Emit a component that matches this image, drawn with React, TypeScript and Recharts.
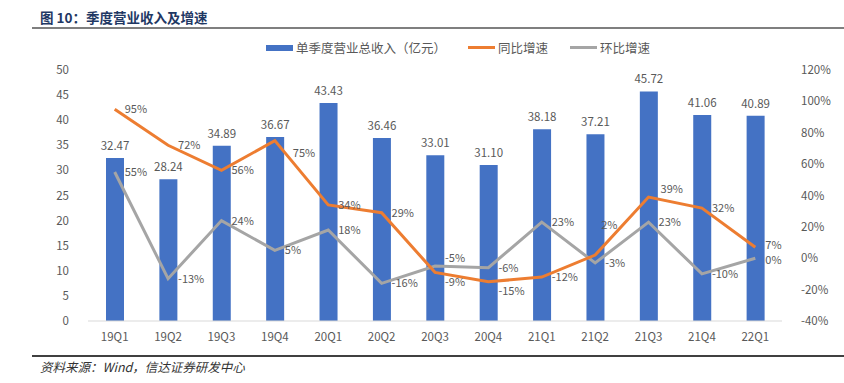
import React from 'react';
import {
  ComposedChart,
  Bar,
  Line,
  XAxis,
  YAxis,
  LabelList
} from 'recharts';

const quarters = ['19Q1', '19Q2', '19Q3', '19Q4', '20Q1', '20Q2', '20Q3', '20Q4', '21Q1', '21Q2', '21Q3', '21Q4', '22Q1'];
const revenue = [32.47, 28.24, 34.89, 36.67, 43.43, 36.46, 33.01, 31.10, 38.18, 37.21, 45.72, 41.06, 40.89];
const yoy = [95, 72, 56, 75, 34, 29, -9, -15, -12, 2, 39, 32, 7];
const qoq = [55, -13, 24, 5, 18, -16, -5, -6, 23, -3, 23, -10, 0];

const leftTicks = [0, 5, 10, 15, 20, 25, 30, 35, 40, 45, 50];
const rightTicks = [-40, -20, 0, 20, 40, 60, 80, 100, 120];

const data = quarters.map((q, i) => ({
  q,
  revenue: revenue[i],
  yoy: yoy[i],
  qoq: qoq[i]
}));

// small label nudges where Excel moved labels to avoid overlap
const yoyNudge: Record<number, [number, number]> = { 3: [8, 12], 6: [0, 10], 7: [0, 9], 9: [-4, -30], 10: [2, -8], 12: [0, -2] };
const qoqNudge: Record<number, [number, number]> = { 6: [0, -8], 12: [0, 2] };

const FONT = '"Noto Sans CJK SC", "Noto Sans", sans-serif';
const TXT = '#595959';

const makeLabel = (nudge: Record<number, [number, number]>) => (props: any) => {
  const { x, y, value, index } = props;
  const [dx, dy] = nudge[index] || [0, 0];
  return (
    <text x={x + 10 + dx} y={y + dy} dy={4} fontSize={11} fill={TXT} fontFamily={FONT}>
      {`${value}%`}
    </text>
  );
};

const legendItems = [
  { name: '单季度营业总收入（亿元）', color: '#4472C4', type: 'bar' },
  { name: '同比增速', color: '#ED7D31', type: 'line' },
  { name: '环比增速', color: '#A5A5A5', type: 'line' }
];

const ChartLegend = () => (
  <div
    style={{
      position: 'absolute',
      top: 38,
      left: 0,
      width: 844,
      display: 'flex',
      justifyContent: 'center',
      fontFamily: FONT,
      fontSize: 12.5,
      color: TXT,
      paddingLeft: 72,
      boxSizing: 'border-box'
    }}
  >
    {legendItems.map((it, i) => (
      <div key={it.name} style={{ display: 'flex', alignItems: 'center', marginLeft: i ? 22 : 0 }}>
        <span
          style={{
            display: 'inline-block',
            width: 27,
            height: it.type === 'bar' ? 6 : 3,
            background: it.color,
            marginRight: 3
          }}
        />
        {it.name}
      </div>
    ))}
  </div>
);

export default function App() {
  return (
    <div style={{ position: 'absolute', left: 0, top: 0, width: 844, height: 383, background: '#fff' }}>
      <div
        style={{
          position: 'absolute',
          left: 40,
          top: 7,
          fontFamily: FONT,
          fontWeight: 700,
          fontSize: 13.5,
          color: '#1F3864'
        }}
      >
        图 10：季度营业收入及增速
      </div>
      <div style={{ position: 'absolute', left: 32, top: 27, width: 812, height: 2, background: '#7F7F7F' }} />
      <ComposedChart
        width={844}
        height={383}
        data={data}
        margin={{ top: 70, right: 0, left: 0, bottom: 32 }}
        style={{ position: 'absolute', left: 0, top: 0 }}
      >
        <XAxis
          dataKey="q"
          axisLine={{ stroke: '#D9D9D9' }}
          tickLine={false}
          height={30}
          tickMargin={6}
          tick={{ fontSize: 11.5, fill: TXT, fontFamily: FONT }}
        />
        <YAxis
          yAxisId="left"
          domain={[0, 50]}
          ticks={leftTicks}
          width={88}
          axisLine={false}
          tickLine={false}
          tickMargin={13}
          tick={{ fontSize: 11.5, fill: TXT, fontFamily: FONT }}
        />
        <YAxis
          yAxisId="right"
          orientation="right"
          domain={[-40, 120]}
          ticks={rightTicks}
          width={62}
          axisLine={false}
          tickLine={false}
          tickMargin={13}
          tickFormatter={(v: number) => `${v}%`}
          tick={{ fontSize: 11.5, fill: TXT, fontFamily: FONT, textAnchor: 'start' }}
        />
        <Bar yAxisId="left" dataKey="revenue" fill="#4472C4" barSize={18} isAnimationActive={false}>
          <LabelList
            dataKey="revenue"
            position="top"
            offset={8}
            formatter={(v: number) => v.toFixed(2)}
            style={{ fontSize: 11.5, fill: TXT, fontFamily: FONT }}
          />
        </Bar>
        <Line
          yAxisId="right"
          dataKey="qoq"
          stroke="#A5A5A5"
          strokeWidth={3}
          dot={false}
          isAnimationActive={false}
        >
          <LabelList dataKey="qoq" content={makeLabel(qoqNudge)} />
        </Line>
        <Line
          yAxisId="right"
          dataKey="yoy"
          stroke="#ED7D31"
          strokeWidth={3}
          dot={false}
          isAnimationActive={false}
        >
          <LabelList dataKey="yoy" content={makeLabel(yoyNudge)} />
        </Line>
      </ComposedChart>
      <ChartLegend />
      <div style={{ position: 'absolute', left: 32, top: 355, width: 812, height: 1.5, background: '#404040' }} />
      <div
        style={{
          position: 'absolute',
          left: 40,
          top: 357,
          fontFamily: FONT,
          fontStyle: 'italic',
          fontSize: 12.5,
          color: '#333'
        }}
      >
        资料来源：Wind，信达证券研发中心
      </div>
    </div>
  );
}
